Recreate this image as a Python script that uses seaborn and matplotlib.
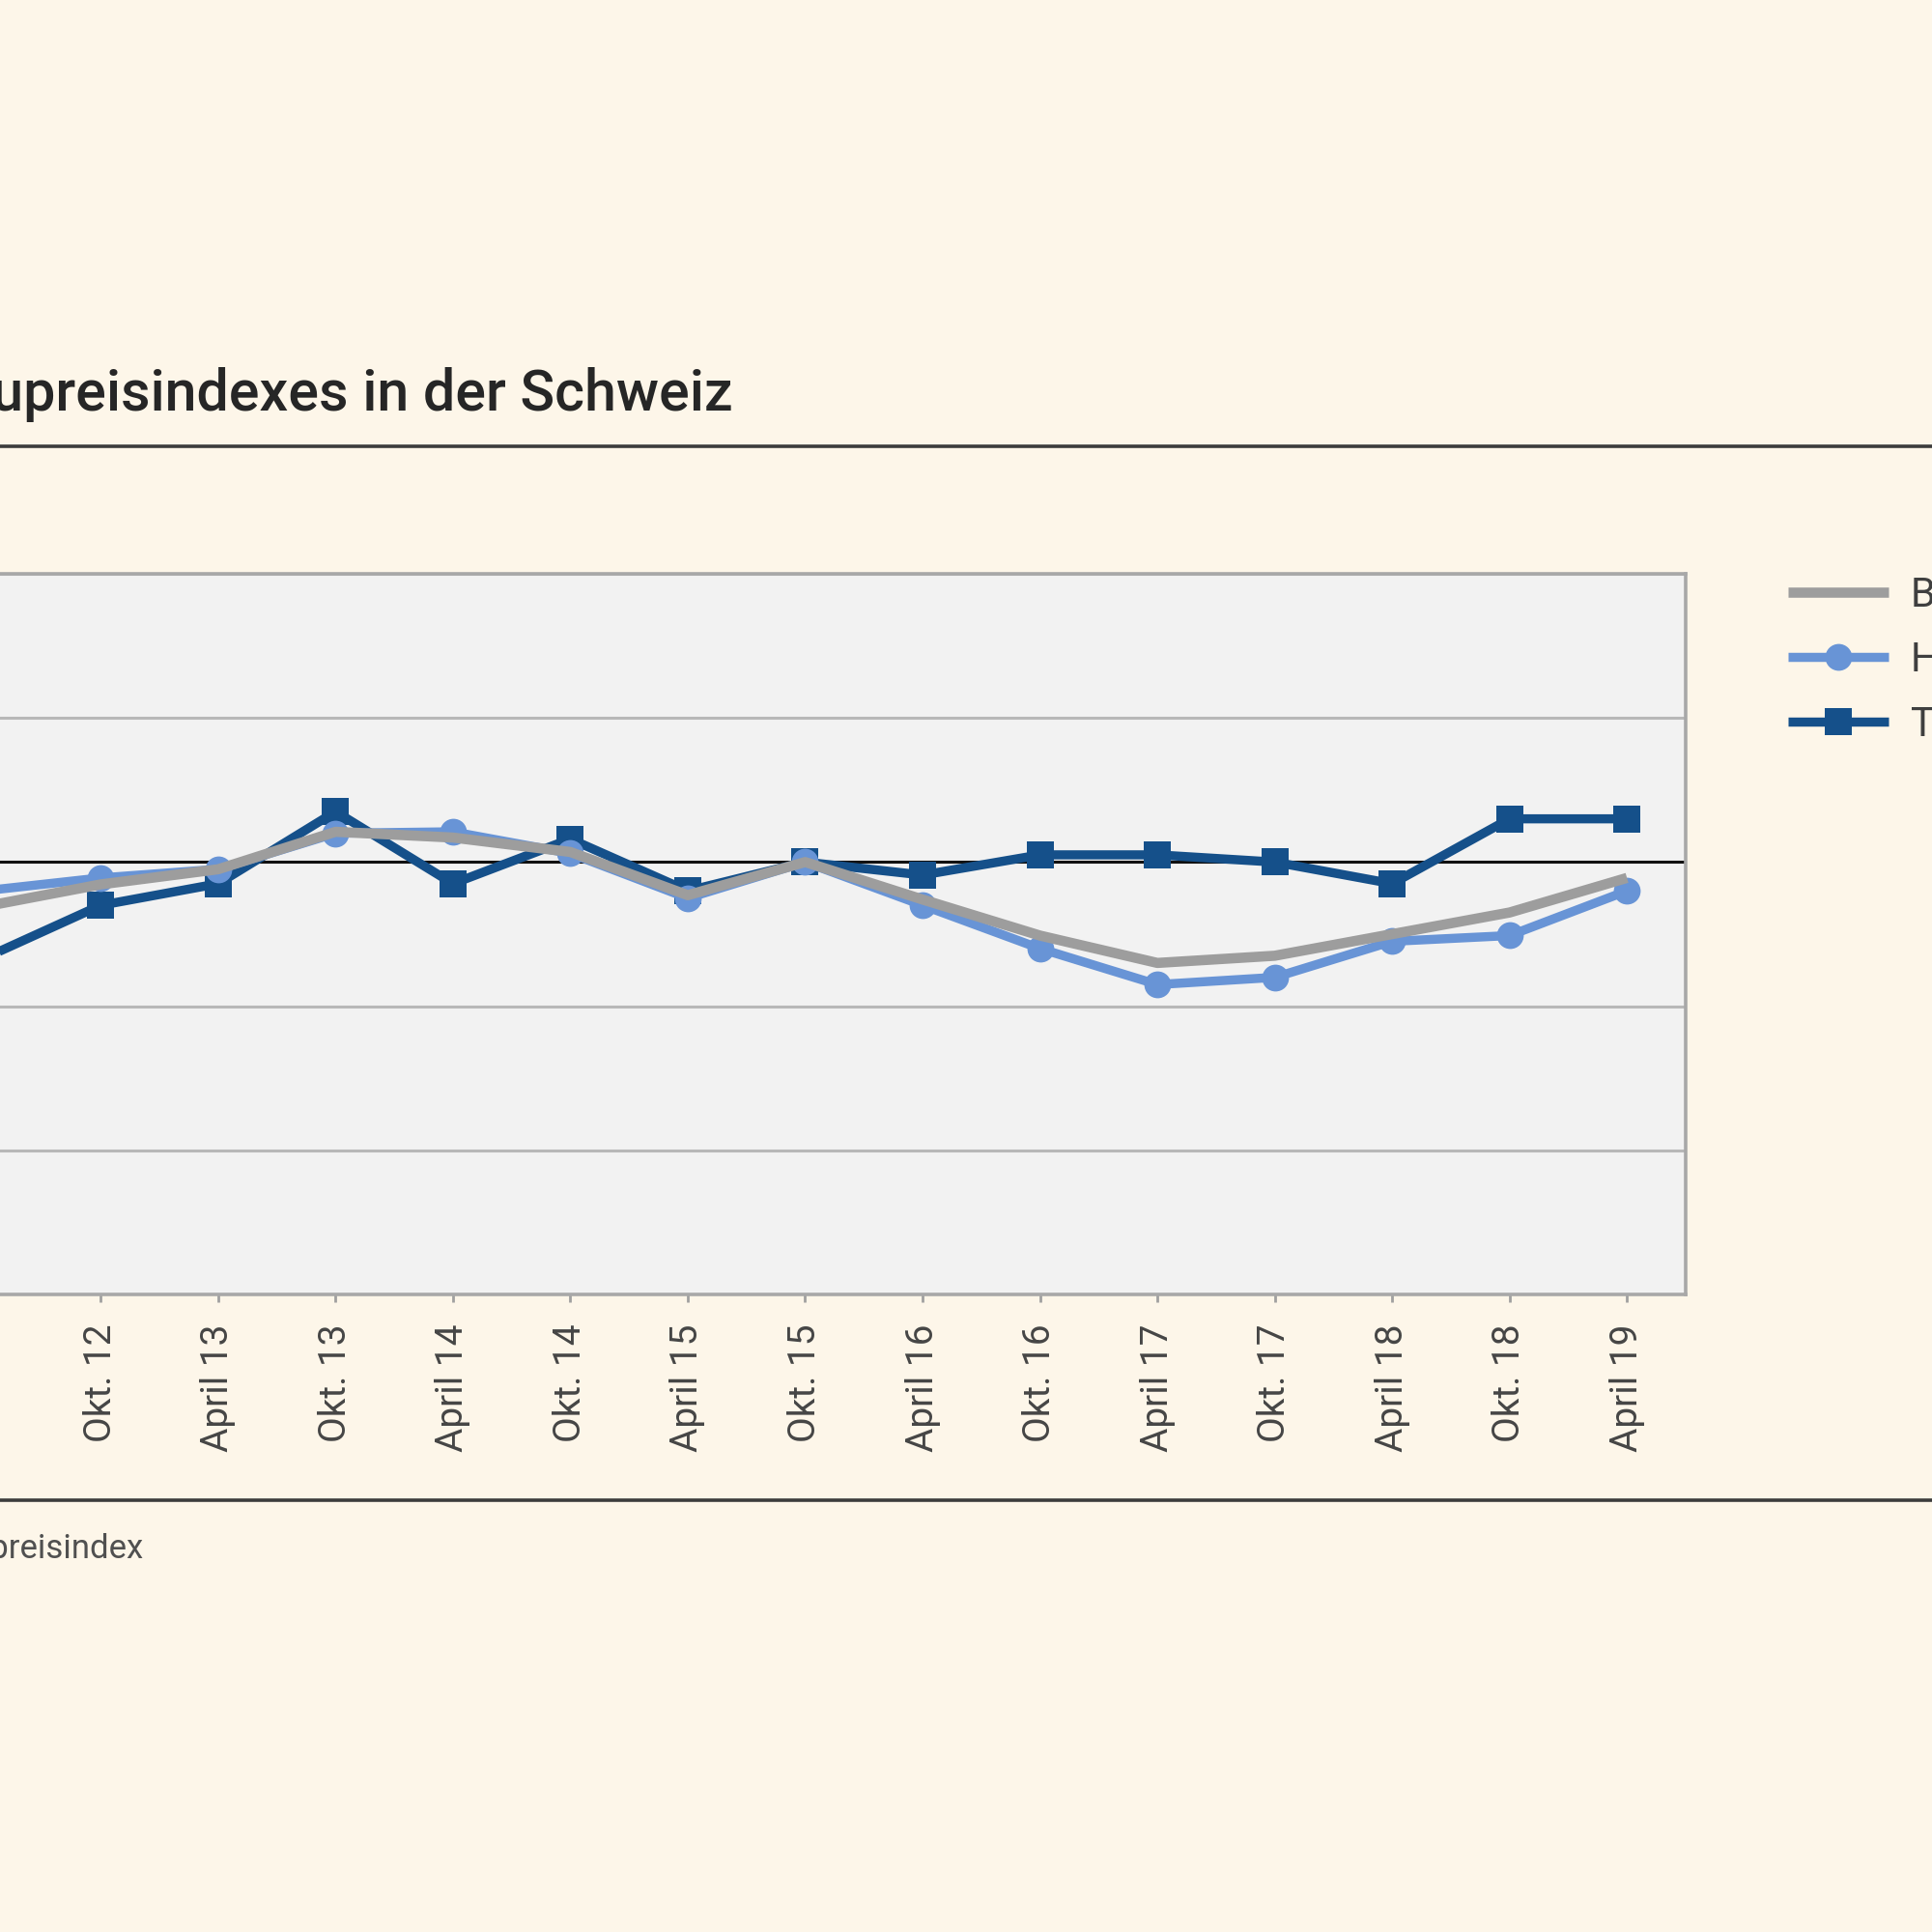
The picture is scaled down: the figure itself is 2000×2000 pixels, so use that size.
import numpy as np
import pandas as pd
import matplotlib
matplotlib.use("Agg")
import matplotlib.pyplot as plt
from matplotlib.lines import Line2D
import seaborn as sns

# ---- data ----
categories = ["April 12", "Okt. 12", "April 13", "Okt. 13", "April 14", "Okt. 14",
              "April 15", "Okt. 15", "April 16", "Okt. 16", "April 17", "Okt. 17",
              "April 18", "Okt. 18", "April 19"]
baupreisindex = [-0.31, -0.155, -0.05, 0.21, 0.17, 0.07, -0.23, 0.0, -0.26, -0.51,
                 -0.70, -0.65, -0.50, -0.35, -0.11]
hochbau = [-0.20, -0.11, -0.05, 0.20, 0.21, 0.06, -0.25, 0.0, -0.30, -0.60,
           -0.85, -0.80, -0.55, -0.51, -0.20]
tiefbau = [-0.67, -0.30, -0.15, 0.35, -0.15, 0.16, -0.20, 0.0, -0.09, 0.05,
           0.05, 0.0, -0.15, 0.30, 0.30]
series_names = ["Baupreisindex", "Hochbau", "Tiefbau"]
y_ticks = [-3, -2, -1, 0, 1, 2]

title = "Entwicklung des Baupreisindexes in der Schweiz"
source = "Quelle: Schweizerischer Baupreisindex"

# ---- style ----
sns.set_theme(style="white")
plt.rcParams['font.family'] = ['Roboto', 'DejaVu Sans']

BG = "#fdf6e9"
PLOT_BG = "#f2f2f2"
C_B = "#9d9d9d"
C_H = "#6894d6"
C_T = "#15508a"

fig = plt.figure(figsize=(10, 10), dpi=200, facecolor=BG)
ax = fig.add_axes([-0.039, 0.33, 0.9115, 0.373])
ax.set_facecolor(PLOT_BG)

x = np.arange(len(categories))
df = pd.DataFrame({"x": x, "Baupreisindex": baupreisindex,
                   "Hochbau": hochbau, "Tiefbau": tiefbau})

lw = 3.4
sns.lineplot(data=df, x="x", y="Tiefbau", ax=ax, color=C_T, lw=lw,
             marker="s", markersize=10, markeredgewidth=0, label=series_names[2],
             zorder=3, solid_capstyle="butt")
sns.lineplot(data=df, x="x", y="Hochbau", ax=ax, color=C_H, lw=lw,
             marker="o", markersize=10, markeredgewidth=0, label=series_names[1],
             zorder=4, solid_capstyle="butt")
sns.lineplot(data=df, x="x", y="Baupreisindex", ax=ax, color=C_B, lw=lw + 0.4,
             label=series_names[0], zorder=5, solid_capstyle="butt")

ax.set_xlim(-0.5, len(categories) - 0.5)
ax.set_ylim(min(y_ticks), max(y_ticks))
ax.set_yticks(y_ticks)
ax.set_yticklabels([])
ax.set_xticks(x)
ax.set_xticklabels(categories, rotation=90, fontsize=14, color="#454545",
                   fontweight="normal")
ax.set_xlabel("")
ax.set_ylabel("")
ax.grid(axis="y", color="#b8b8b8", lw=1.1)
ax.set_axisbelow(True)
ax.axhline(0, color="#111111", lw=1.1, zorder=2)
for s in ax.spines.values():
    s.set_color("#a8a8a8")
    s.set_linewidth(1.3)
ax.tick_params(axis="x", bottom=True, length=3, width=1, color="#a0a0a0", pad=8)
ax.tick_params(axis="y", left=False)

# legend
ax.get_legend().remove()
handles, labels = ax.get_legend_handles_labels()
order = [labels.index(n) for n in series_names]
leg = fig.legend([handles[i] for i in order], [labels[i] for i in order],
                 loc="upper left", bbox_to_anchor=(1851 / 2000, 1 - 596 / 2000),
                 frameon=False, fontsize=15, handlelength=2.5, handletextpad=0.55,
                 labelspacing=0.62, borderpad=0, borderaxespad=0, numpoints=1)
for t in leg.get_texts():
    t.set_color("#3f3f3f")
for h in leg.legend_handles:
    h.set_solid_capstyle("butt")

# title, rules, source
fig.text(759 / 2000, 1 - 425 / 2000, title, ha="right", va="baseline",
         fontsize=21.3, fontweight="medium", color="#262626")
fig.add_artist(Line2D([0, 1], [1 - 462 / 2000] * 2, transform=fig.transFigure,
                      color="#3c3c3c", lw=1.3))
fig.add_artist(Line2D([0, 1], [1 - 1553 / 2000] * 2, transform=fig.transFigure,
                      color="#3c3c3c", lw=1.3))
fig.text(148 / 2000, 1 - 1603 / 2000, source, ha="right", va="center",
         fontsize=12.5, color="#505050")

fig.savefig("out.png", dpi=200, facecolor=BG)
